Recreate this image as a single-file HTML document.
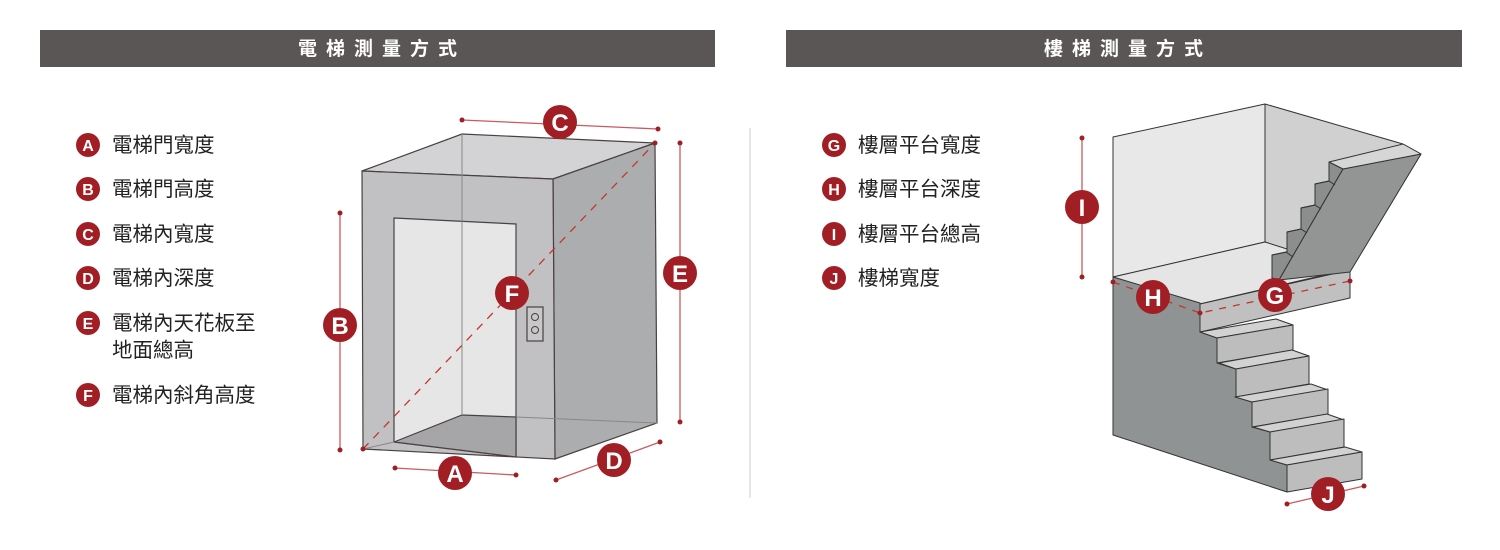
<!DOCTYPE html><html><head><meta charset="utf-8"><style>
body{margin:0;background:#fff}
svg{display:block}
.t{font-family:"Liberation Sans","Noto Sans CJK TC",sans-serif;font-size:20.5px;fill:#222}
.h{font-family:"Liberation Sans","Noto Sans CJK TC",sans-serif;font-size:19px;fill:#fff;font-weight:bold;letter-spacing:9px}
.b{font-family:"Liberation Sans",sans-serif;font-weight:bold;fill:#fff;text-anchor:middle}
</style></head><body>
<svg width="1500" height="550" viewBox="0 0 1500 550" xmlns="http://www.w3.org/2000/svg">
<rect x="40" y="30" width="675" height="37" fill="#5b5656"/>
<rect x="786" y="30" width="676" height="37" fill="#5b5656"/>
<text class="h" x="382" y="55" text-anchor="middle">電梯測量方式</text>
<text class="h" x="1128" y="55" text-anchor="middle">樓梯測量方式</text>
<line x1="750" y1="128" x2="750" y2="498" stroke="#ccc"/>
<g id="leg">
<g fill="#a11f24">
<circle cx="88" cy="145" r="12"/><circle cx="88" cy="189" r="12"/><circle cx="88" cy="234" r="12"/><circle cx="88" cy="278" r="12"/><circle cx="88" cy="323" r="12"/><circle cx="88" cy="395" r="12"/>
<circle cx="834" cy="145" r="12"/><circle cx="834" cy="189" r="12"/><circle cx="834" cy="234" r="12"/><circle cx="834" cy="278" r="12"/>
</g>
<g class="b" font-size="16">
<text x="88" y="151">A</text><text x="88" y="195">B</text><text x="88" y="240">C</text><text x="88" y="284">D</text><text x="88" y="329">E</text><text x="88" y="401">F</text>
<text x="834" y="151">G</text><text x="834" y="195">H</text><text x="834" y="240">I</text><text x="834" y="284">J</text>
</g>
<text class="t" x="112" y="152">電梯門寬度</text>
<text class="t" x="112" y="196">電梯門高度</text>
<text class="t" x="112" y="241">電梯內寬度</text>
<text class="t" x="112" y="285">電梯內深度</text>
<text class="t" x="112" y="330">電梯內天花板至</text>
<text class="t" x="112" y="357">地面總高</text>
<text class="t" x="112" y="402">電梯內斜角高度</text>
<text class="t" x="858" y="152">樓層平台寬度</text>
<text class="t" x="858" y="196">樓層平台深度</text>
<text class="t" x="858" y="241">樓層平台總高</text>
<text class="t" x="858" y="285">樓梯寬度</text>
</g>
<!-- elevator -->
<g stroke="#4a4040" stroke-width="1.2">
<polygon points="362,171 462,134 655,143 553,179" fill="#d3d3d5"/>
<polygon points="553,179 655,143 657,423 555,459" fill="#acadaf"/>
<polygon points="362,171 553,179 555,459 363,449" fill="#c1c1c3"/>
<polygon points="394,218 516,224 516,457 394,442" fill="#e6e6e6"/>
<polygon points="394,442 462,415 516,417 516,457" fill="#a6a6a8"/>
<line x1="462" y1="134" x2="462" y2="415" stroke="#888" stroke-width="1"/>
<line x1="516" y1="417" x2="657" y2="423" stroke="#888" stroke-width="1"/>
<line x1="363" y1="449" x2="394" y2="442" stroke="#888" stroke-width="1"/>
<rect x="527" y="307" width="16" height="34" fill="#c8c8c8"/>
<circle cx="535" cy="317" r="3.5" fill="none" stroke-width="1"/>
<circle cx="535" cy="330" r="3.5" fill="none" stroke-width="1"/>
</g>
<line x1="363" y1="449" x2="655" y2="143" stroke="#c0392b" stroke-width="1.3" stroke-dasharray="8,7"/>
<g stroke="#c95a5e" stroke-width="1.3">
<line x1="462" y1="120" x2="658" y2="129"/>
<line x1="340" y1="213" x2="340" y2="450"/>
<line x1="680" y1="143" x2="680" y2="422"/>
<line x1="395" y1="468" x2="516" y2="475"/>
<line x1="556" y1="480" x2="660" y2="442"/>
</g>
<g fill="#a11f24">
<circle cx="462" cy="120" r="2.5"/><circle cx="658" cy="129" r="2.5"/><circle cx="340" cy="213" r="2.5"/><circle cx="340" cy="450" r="2.5"/><circle cx="680" cy="143" r="2.5"/><circle cx="680" cy="422" r="2.5"/><circle cx="395" cy="468" r="2.5"/><circle cx="516" cy="475" r="2.5"/><circle cx="556" cy="480" r="2.5"/><circle cx="660" cy="442" r="2.5"/><circle cx="363" cy="449" r="2.5"/><circle cx="655" cy="143" r="2.5"/>
<circle cx="560" cy="122" r="17"/><circle cx="340" cy="325" r="17"/><circle cx="512" cy="293" r="17"/><circle cx="680" cy="273" r="17"/><circle cx="455" cy="473" r="17"/><circle cx="614" cy="460" r="17"/>
</g>
<g class="b" font-size="24">
<text x="560" y="131">C</text><text x="340" y="334">B</text><text x="512" y="302">F</text><text x="680" y="282">E</text><text x="455" y="482">A</text><text x="614" y="469">D</text>
</g>
<!-- stairs -->
<g stroke="#333" stroke-width="1" stroke-linejoin="round">
<polygon points="1113,137 1265,104 1265,242 1113,277" fill="#e8e8e8"/>
<polygon points="1265,104 1403,144 1421,154 1350,270 1265,242" fill="#d0d0d0"/>
<polygon points="1113,277 1265,242 1350,269 1200,304" fill="#e5e5e5"/>
<polygon points="1200,304 1350,270 1350,298 1200,332" fill="#c0c0c0"/>
<polygon points="1329,162 1343,169 1279,280 1272,278 1272,255 1287,252 1287,232 1301,229 1301,208 1315,205 1315,184 1329,181" fill="#8c8e8e"/>
<polygon points="1343,169 1421,154 1350,272 1279,280" fill="#939595"/>
<polygon points="1329,162 1403,144 1421,154 1343,169" fill="#d6d6d6"/>
<polyline points="1272,255 1286,252 1293,257" fill="none"/>
<polyline points="1287,232 1301,229 1307,233" fill="none"/>
<polyline points="1301,208 1315,205 1321,209" fill="none"/>
<polyline points="1315,184 1329,181 1335,185" fill="none"/>
<polygon points="1113,277 1200,303 1200,332 1217,338 1217,363 1236,369 1236,397 1252,402 1252,427 1270,432 1270,460 1287,465 1287,492 1113,435" fill="#909393"/>
<polygon points="1200,332 1276,319 1293,325 1217,338" fill="#d2d2d2"/>
<polygon points="1217,338 1293,325 1293,350 1217,363" fill="#bdbdbd"/>
<polygon points="1219,363 1292,350 1309,356 1236,369" fill="#d2d2d2"/>
<polygon points="1236,369 1309,356 1309,384 1236,397" fill="#bdbdbd"/>
<polygon points="1235,397 1311,384 1328,390 1252,402" fill="#d2d2d2"/>
<polygon points="1252,402 1328,389 1328,414 1252,427" fill="#bdbdbd"/>
<polygon points="1253,427 1327,414 1344,420 1270,432" fill="#d2d2d2"/>
<polygon points="1270,432 1344,419 1344,447 1270,460" fill="#bdbdbd"/>
<polygon points="1270,460 1345,447 1362,452 1287,465" fill="#d2d2d2"/>
<polygon points="1287,465 1362,452 1362,479 1287,492" fill="#bdbdbd"/>
</g>
<polyline points="1113,282 1200,313 1350,281" fill="none" stroke="#c0392b" stroke-width="1.3" stroke-dasharray="7,7"/>
<g stroke="#c95a5e" stroke-width="1.3">
<line x1="1082" y1="138" x2="1082" y2="277"/>
<line x1="1287" y1="504" x2="1364" y2="486"/>
</g>
<g fill="#a11f24">
<circle cx="1082" cy="138" r="2.5"/><circle cx="1082" cy="277" r="2.5"/><circle cx="1287" cy="504" r="2.5"/><circle cx="1364" cy="486" r="2.5"/><circle cx="1113" cy="282" r="2.5"/><circle cx="1200" cy="313" r="2.5"/><circle cx="1350" cy="281" r="2.5"/>
<circle cx="1082" cy="207" r="17"/><circle cx="1153" cy="297" r="17"/><circle cx="1275" cy="295" r="17"/><circle cx="1328" cy="494" r="17"/>
</g>
<g class="b" font-size="24">
<text x="1082" y="216">I</text><text x="1153" y="306">H</text><text x="1275" y="304">G</text><text x="1328" y="503">J</text>
</g>
</svg>
</body></html>
